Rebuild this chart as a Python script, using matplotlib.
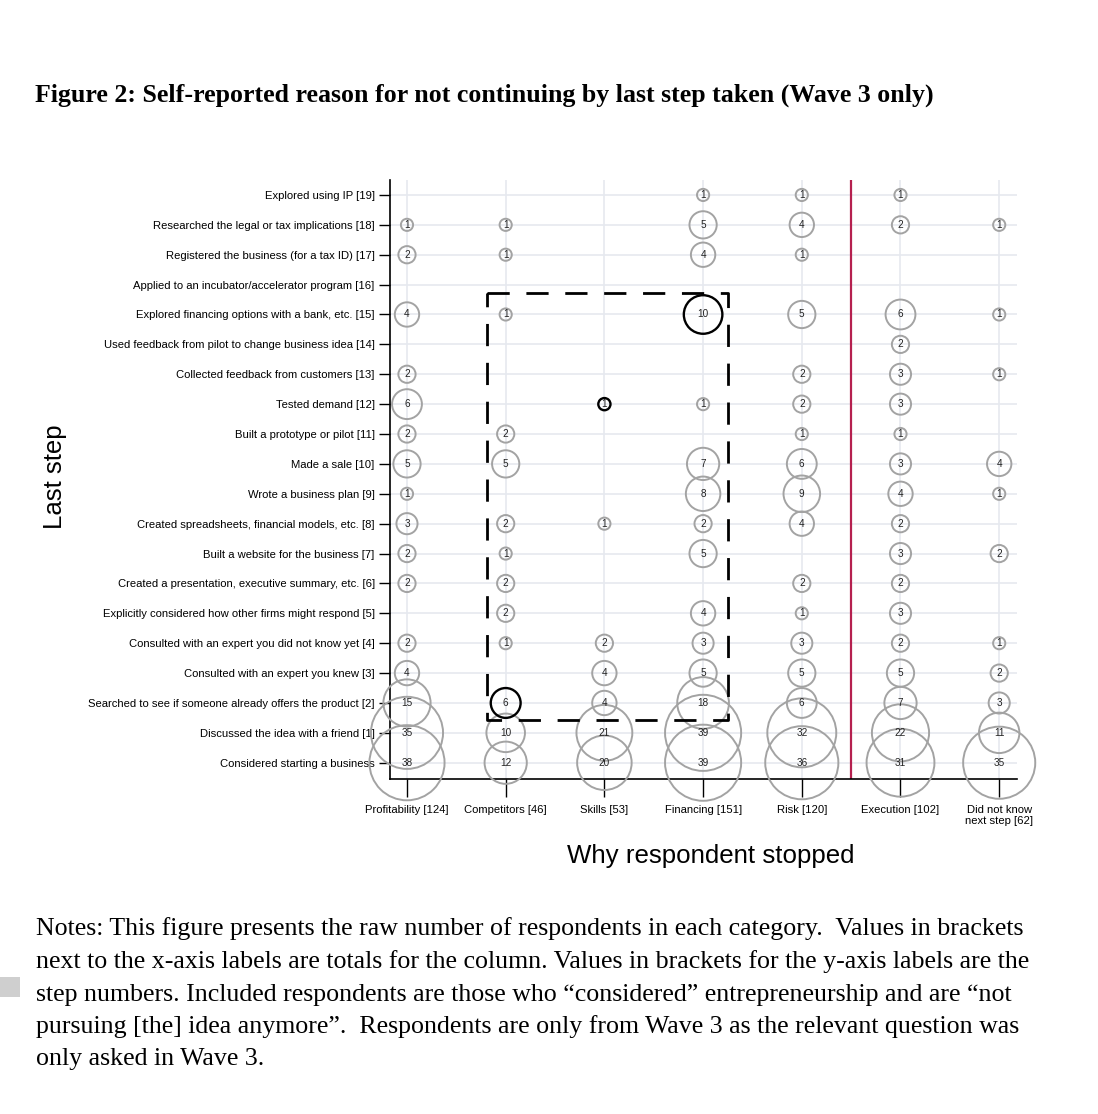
import matplotlib.pyplot as plt
import numpy as np

# step labels, index = step number
step_labels = [
    'Considered starting a business',
    'Discussed the idea with a friend [1]',
    'Searched to see if someone already offers the product [2]',
    'Consulted with an expert you knew [3]',
    'Consulted with an expert you did not know yet [4]',
    'Explicitly considered how other firms might respond [5]',
    'Created a presentation, executive summary, etc. [6]',
    'Built a website for the business [7]',
    'Created spreadsheets, financial models, etc. [8]',
    'Wrote a business plan [9]',
    'Made a sale [10]',
    'Built a prototype or pilot [11]',
    'Tested demand [12]',
    'Collected feedback from customers [13]',
    'Used feedback from pilot to change business idea [14]',
    'Explored financing options with a bank, etc. [15]',
    'Applied to an incubator/accelerator program [16]',
    'Registered the business (for a tax ID) [17]',
    'Researched the legal or tax implications [18]',
    'Explored using IP [19]',
]

reasons = ['Profitability', 'Competitors', 'Skills', 'Financing', 'Risk',
           'Execution', 'Did not know\nnext step']

# counts by step number 0..19 (0 = no respondents)
profitability = [38, 35, 15, 4, 2, 0, 2, 2, 3, 1, 5, 2, 6, 2, 0, 4, 0, 2, 1, 0]
competitors = [12, 10, 6, 0, 1, 2, 2, 1, 2, 0, 5, 2, 0, 0, 0, 1, 0, 1, 1, 0]
skills = [20, 21, 4, 4, 2, 0, 0, 0, 1, 0, 0, 0, 1, 0, 0, 0, 0, 0, 0, 0]
financing = [39, 39, 18, 5, 3, 4, 0, 5, 2, 8, 7, 0, 1, 0, 0, 10, 0, 4, 5, 1]
risk = [36, 32, 6, 5, 3, 1, 2, 0, 4, 9, 6, 1, 2, 2, 0, 5, 0, 1, 4, 1]
execution = [31, 22, 7, 5, 2, 3, 2, 3, 2, 4, 3, 1, 3, 3, 2, 6, 0, 0, 2, 1]
did_not_know = [35, 11, 3, 2, 1, 0, 0, 2, 0, 1, 4, 0, 0, 1, 0, 1, 0, 0, 1, 0]

columns = [profitability, competitors, skills, financing, risk, execution, did_not_know]

# cells drawn in black: (reason index, step)
highlighted = [(1, 2), (2, 12), (3, 15)]

fig = plt.figure(figsize=(10.98, 11.14), dpi=100)
ax = fig.add_axes([0.3552, 0.3007, 0.571, 0.5377])

for i, col in enumerate(columns):
    for step, n in enumerate(col):
        if n == 0:
            continue
        black = (i, step) in highlighted
        ax.scatter(i, step, s=77 * n, facecolors='none',
                   edgecolors='black' if black else '#a3a3a3',
                   linewidths=1.7 if black else 1.4, zorder=3, clip_on=False)
        ax.text(i, step, str(n), ha='center', va='center', fontsize=7.2,
                color='#222222', zorder=4, family='Liberation Sans')

# dashed box around the highlighted area
bx = [0.815, 3.25, 3.25, 0.815, 0.815]
by = [15.73, 15.73, 1.43, 1.43, 15.73]
ax.plot(bx, by, color='black', lw=2, dashes=(8, 6), zorder=5)

# red divider
ax.axvline(4.5, color='#b5204f', lw=1.6, zorder=2)

ax.set_xlim(-0.172, 6.18)
ax.set_ylim(-0.545, 19.5)

totals = [sum(c) for c in columns]
xlabels = []
for name, t in zip(reasons, totals):
    xlabels.append(f'{name} [{t}]')
ax.set_xticks(range(len(reasons)))
ax.set_xticklabels(xlabels, fontsize=8.1, family='Liberation Sans', linespacing=1.05)
ax.set_yticks(range(len(step_labels)))
ax.set_yticklabels(step_labels, fontsize=8.1, family='Liberation Sans')

ax.tick_params(axis='x', length=13, width=1, pad=6, color='black')
ax.tick_params(axis='y', length=8, width=1, pad=3, color='black')

ax.grid(True, color='#e6e9ef', lw=1.2, zorder=0)
ax.set_axisbelow(True)
for s in ['top', 'right']:
    ax.spines[s].set_visible(False)
ax.spines['left'].set_linewidth(1.2)
ax.spines['bottom'].set_linewidth(1.2)

fig.text(0.0319, 0.9147,
         'Figure 2: Self-reported reason for not continuing by last step taken (Wave 3 only)',
         fontsize=18.6, fontweight='bold', family='Liberation Serif', va='center')
fig.text(0.050, 0.5718, 'Last step', rotation=90, fontsize=18.5,
         family='Liberation Sans', ha='center', va='center')
fig.text(0.6475, 0.2316, 'Why respondent stopped', fontsize=18.6,
         family='Liberation Sans', ha='center', va='center')

notes = [
    'Notes: This figure presents the raw number of respondents in each category.  Values in brackets',
    'next to the x-axis labels are totals for the column. Values in brackets for the y-axis labels are the',
    'step numbers. Included respondents are those who \u201cconsidered\u201d entrepreneurship and are \u201cnot',
    'pursuing [the] idea anymore\u201d.  Respondents are only from Wave 3 as the relevant question was',
    'only asked in Wave 3.',
]
note_y = [929, 962, 995, 1027, 1059]
for line, y in zip(notes, note_y):
    fig.text(0.0328, 1 - y / 1114, line, fontsize=18.6, family='Liberation Serif', va='center')

# small grey mark at the left edge of the page scan
fig.patches.append(plt.Rectangle((0, 1 - 997 / 1114), 0.018, 0.018,
                                 transform=fig.transFigure, color='#cfcfcf', lw=0))

fig.savefig('out.png', dpi=100)
